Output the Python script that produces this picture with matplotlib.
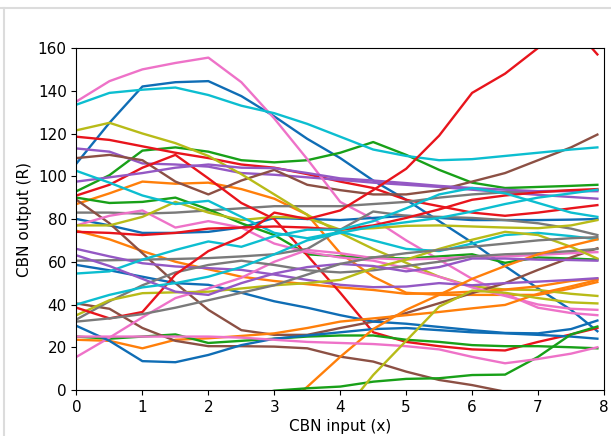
import numpy as np
import matplotlib
matplotlib.use("Agg")
import matplotlib.pyplot as plt
from matplotlib.lines import Line2D

nan = np.nan
x = [0, 0.5, 1, 1.5, 2, 2.5, 3, 3.5, 4, 4.5, 5, 5.5, 6, 6.5, 7, 7.5, 7.9]

blue1 = [106, 125, 142, 144, 144.5, 137.5, 128, 117.5, 108.5, 98, 89, 79, 69, 58, 47.5, 37.5, 27.5]
blue2 = [80, 77, 73.5, 73.5, 74, 76, 80.5, 80, 79.5, 80.5, 81.5, 80.5, 79.5, 79.5, 79.5, 79.7, 80]
blue3 = [58.5, 56, 53, 50, 49.2, 45.5, 41.5, 38.5, 35, 32, 31, 29.5, 28, 26.7, 26.5, 28.5, 32.5]
blue4 = [30, 23, 13.5, 13, 16.4, 21, 24, 25.5, 27, 28.5, 29, 28, 27, 26.5, 25.8, 25, 24]

orange1 = [87, 92, 97.5, 96.5, 97, 94, 89.5, 82, 64, 53, 45.5, 44.5, 44.5, 44.5, 44.5, 47.5, 50.5]
orange2 = [74.5, 70.5, 65, 60, 56.5, 53, 51, 49.5, 48, 46.8, 45, 45.3, 46, 47, 48.5, 51, 52]
orange3 = [23.5, 23, 19.5, 23.5, 24.2, 25.3, 26.5, 29, 32, 33.5, 35, 36.5, 38.2, 39.8, 45, 48.5, 51.5]
orange4 = [nan, nan, nan, nan, nan, nan, -12, 1.5, 15.5, 28.5, 37.5, 44.5, 52, 58, 63.5, 67.5, 70.5]

green1 = [93, 100.5, 112, 113.5, 111.5, 107.5, 106.5, 107.5, 111, 116, 110, 103, 97, 94.5, 95, 95.5, 96]
green2 = [90, 87.5, 88, 90, 84.5, 78, 72.5, 63.5, 62.5, 62, 61.5, 62.5, 63.5, 59.5, 62, 61.5, 61]
green3 = [25, 24, 25, 26, 22, 23, 24, 25, 25.5, 25.5, 23.5, 22.5, 21, 20.5, 20.5, 20, 19.5]
green4 = [nan, nan, nan, nan, nan, -4, -0.3, 0.8, 1.6, 3.9, 5.2, 5.5, 7, 7.2, 15.5, 26, 29.7]

red1 = [118.5, 117, 114, 111, 108.5, 105.5, 104, 101, 97.5, 94.5, 89, 86, 83, 81.5, 83, 85, 86.5]
red2 = [91, 96, 104, 110, 99, 87.5, 80, 63, 45.5, 27, 22.5, 20.5, 19, 18.5, 22.5, 26, 29]
red3 = [74, 73.5, 72.5, 73.5, 75.5, 76, 76.5, 76, 75, 77, 80.5, 84.5, 89, 91, 92.5, 93.5, 94]
red4 = [38.5, 33.5, 36.5, 54, 65, 71.5, 83, 80, 84, 93.5, 103.5, 119, 139, 148, 160, 171, 157]

purple1 = [113, 111.5, 106, 105.5, 104.5, 101.5, 100.7, 99.5, 98.3, 97, 96, 95, 93.7, 92.5, 91.3, 90.3, 89.5]
purple2 = [97.5, 99.5, 101.5, 104, 105.5, 104, 103.8, 101.5, 99, 98, 96.8, 95.5, 94.5, 93.7, 93, 93, 93]
purple3 = [66, 62.5, 59.3, 57.8, 57, 56.2, 54, 51.5, 49.2, 48.1, 48.4, 50, 49, 50, 50.7, 51.5, 52.3]
purple4 = [63, 58, 52, 46, 44.5, 50, 54.5, 57.5, 59, 58, 55.5, 57.5, 61.5, 61.5, 61, 60.8, 60.5]

brown1 = [108.5, 110, 107.5, 97.5, 91.5, 98, 103, 96, 93.5, 91.5, 91.5, 93.5, 97.5, 101.5, 107.5, 113.5, 119.5]
brown2 = [89, 78, 64, 50, 37.5, 28, 25.8, 25.8, 29, 32, 36, 40.6, 45.3, 50, 56.2, 62, 66.3]
brown3 = [40.5, 38, 29, 23, 20.5, 20.5, 20.3, 19.5, 15.6, 13.3, 8.6, 4.7, 2.3, -0.8, nan, nan, nan]

pink1 = [135, 144.5, 150, 153, 155.5, 144, 127, 108, 88, 80, 70, 61, 52, 45, 38.5, 36, 35]
pink2 = [77, 81.5, 84, 76, 79, 76, 68.5, 64.5, 62, 60.5, 57, 53, 48, 44, 40, 38, 37.5]
pink3 = [15.5, 24.5, 34, 43, 47.5, 52.5, 60, 65.5, 64, 61.7, 61, 61.5, 62.4, 62.5, 63.2, 64, 64.5]
pink4 = [25, 25, 25, 25, 25, 24.5, 23.5, 22.5, 22, 21.5, 20.5, 19, 15.5, 12.5, 14.5, 17, 20]

gray1 = [83, 83, 82.5, 83, 84, 85, 86, 86, 86, 87, 88, 90, 91.5, 92.5, 93, 93.3, 93.5]
gray2 = [60.5, 60.7, 61, 61.3, 61.7, 62.5, 63.5, 66, 75, 83.5, 81.5, 81, 80.5, 79.5, 78, 75.5, 72.5]
gray3 = [33, 41.5, 49, 55, 58.5, 60.5, 58.5, 56, 55, 56, 58, 60, 62.5, 63.5, 64, 65, 66]
gray4 = [32, 33.5, 35.5, 38.5, 42, 45.5, 49, 54, 59, 62, 64, 65.5, 67, 68.5, 70, 71, 71.5]

olive1 = [121.5, 125, 120, 115.5, 109.5, 101, 91.5, 82, 73.5, 66, 59.5, 53, 48.5, 47, 46.8, 45, 44]
olive2 = [77, 77, 81, 88, 83, 79.5, 81, 80.5, 75, 75.7, 76.8, 77, 76.5, 76, 75.7, 77, 79.5]
olive3 = [35, 42, 45.3, 45.7, 46, 47.5, 49, 50, 51.5, 57, 61, 66, 70.3, 74, 72.5, 67, 61.5]
olive4 = [nan, nan, nan, nan, nan, nan, nan, nan, -12, 7, 23, 39, 46.5, 45.5, 43, 41, 40.5]

cyan1 = [133.5, 139, 140.5, 141.5, 138, 133, 129.5, 124.5, 118.5, 112.5, 109.5, 107.5, 108, 109.5, 111, 112.5, 113.5]
cyan2 = [102.5, 97, 91, 87, 88.5, 81, 73.5, 71, 74, 70, 66, 65, 68.5, 72.5, 73.5, 72, 70.5]
cyan3 = [54.5, 55.5, 61, 65.5, 69.5, 67, 72, 75, 75, 79, 85, 91.5, 94.5, 92, 87.5, 83, 81]
cyan4 = [40, 44.5, 48, 50, 53, 57.5, 63.5, 70, 73.5, 76.5, 78.5, 80.5, 83.5, 87, 90, 92, 93.7]

C = {"blue": "#0f6db5", "orange": "#ff7f0a", "green": "#18a018", "red": "#e8141c",
     "purple": "#9458c4", "brown": "#8c5044", "pink": "#ee72c8", "gray": "#7a7a7a",
     "olive": "#b8bb18", "cyan": "#0cbed0"}

series = [
    (blue1, "blue"), (orange1, "orange"), (green1, "green"), (red1, "red"), (purple1, "purple"),
    (brown1, "brown"), (pink1, "pink"), (gray1, "gray"), (olive1, "olive"), (cyan1, "cyan"),
    (blue2, "blue"), (orange2, "orange"), (green2, "green"), (red2, "red"), (purple2, "purple"),
    (brown2, "brown"), (pink2, "pink"), (gray2, "gray"), (olive2, "olive"), (cyan2, "cyan"),
    (blue3, "blue"), (orange3, "orange"), (green3, "green"), (red3, "red"), (purple3, "purple"),
    (brown3, "brown"), (pink3, "pink"), (gray3, "gray"), (olive3, "olive"), (cyan3, "cyan"),
    (blue4, "blue"), (orange4, "orange"), (green4, "green"), (red4, "red"), (purple4, "purple"),
    (pink4, "pink"), (gray4, "gray"), (olive4, "olive"), (cyan4, "cyan"),
]

fig = plt.figure(figsize=(6.11, 4.36), dpi=100)
ax = fig.add_axes([0.1252, 0.1055, 0.9885 - 0.1252, 0.8899 - 0.1055])
for ys, c in series:
    ax.plot(x, ys, color=C[c], linewidth=1.7)

ax.set_xlim(0, 8)
ax.set_ylim(0, 160)
ax.set_xticks(range(0, 9))
ax.set_yticks(range(0, 161, 20))
ax.tick_params(labelsize=11)
ax.set_xlabel("CBN input (x)", fontsize=11, labelpad=3)
ax.set_ylabel("CBN output (R)", fontsize=11)

fig.add_artist(Line2D([0, 1], [0.981, 0.981], transform=fig.transFigure, color="#dcdcdc", lw=1.5))
fig.add_artist(Line2D([0.007, 0.007], [0, 0.981], transform=fig.transFigure, color="#dcdcdc", lw=1.5))

fig.savefig("out.png", dpi=100)
